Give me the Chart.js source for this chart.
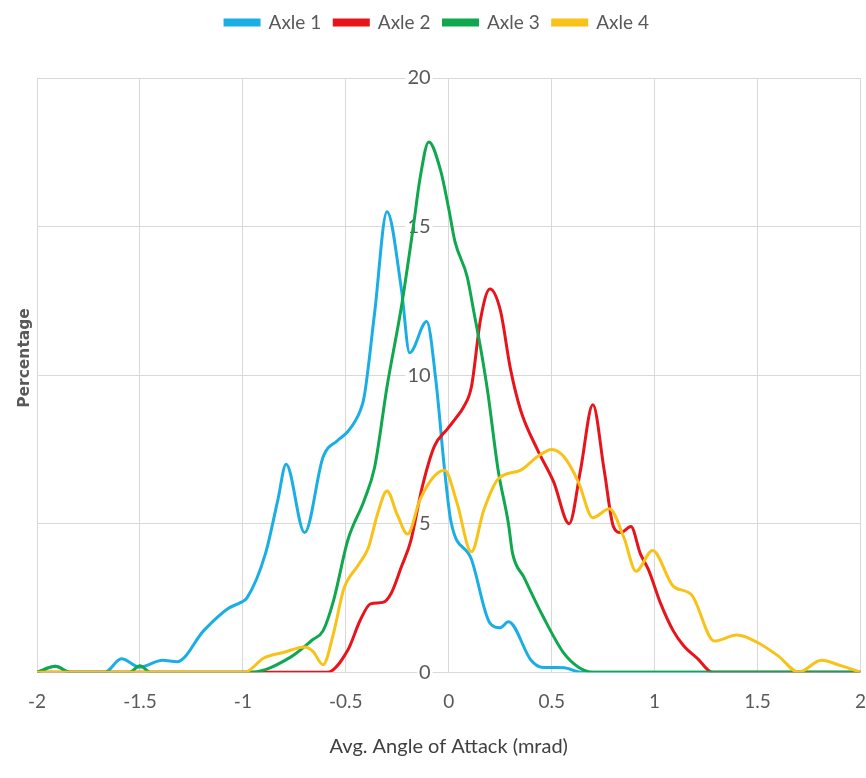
<!DOCTYPE html>
<html>
<head>
<meta charset="utf-8">
<script src="https://cdn.jsdelivr.net/npm/chart.js@4/dist/chart.umd.min.js"></script>
<style>
  html, body { margin: 0; padding: 0; background: #ffffff; }
  #wrap { width: 866px; height: 778px; }
</style>
</head>
<body>
<div id="wrap"><canvas id="c" width="866" height="778"></canvas></div>
<script>
// ---- data ----
const seriesNames = ['Axle 1', 'Axle 2', 'Axle 3', 'Axle 4'];
const xTickLabels = ['-2', '-1.5', '-1', '-0.5', '0', '0.5', '1', '1.5', '2'];
const yTickLabels = ['0', '5', '10', '15', '20'];
const xTitle = 'Avg. Angle of Attack (mrad)';
const yTitle = 'Percentage';

const axle1X = [-2, -1.91, -1.84, -1.67, -1.59, -1.50, -1.39, -1.32, -1.19, -1.07, -1.01, -0.98, -0.89, -0.83, -0.79, -0.70, -0.61, -0.54, -0.49, -0.43, -0.41, -0.36, -0.30, -0.23, -0.19, -0.107, -0.063, -0.02, 0.01, 0.11, 0.20, 0.25, 0.29, 0.40, 0.45, 0.56, 0.64, 2];
const axle1Y = [0, 0.2, 0, 0, 0.45, 0.17, 0.4, 0.35, 1.4, 2.15, 2.35, 2.5, 4.0, 5.8, 7.0, 4.7, 7.25, 7.8, 8.1, 8.8, 9.3, 12.1, 15.5, 12.9, 10.75, 11.8, 9.85, 6.8, 5.1, 3.8, 1.65, 1.5, 1.7, 0.4, 0.17, 0.15, 0, 0];

const axle2X = [-2, -0.59, -0.49, -0.43, -0.38, -0.32, -0.28, -0.23, -0.185, -0.13, -0.07, -0.005, 0.04, 0.07, 0.11, 0.155, 0.20, 0.25, 0.30, 0.35, 0.43, 0.51, 0.585, 0.64, 0.70, 0.755, 0.80, 0.835, 0.885, 0.93, 0.97, 1.03, 1.09, 1.14, 1.21, 1.28, 2];
const axle2Y = [0, 0, 0.75, 1.75, 2.3, 2.35, 2.65, 3.55, 4.4, 6.2, 7.6, 8.2, 8.6, 8.9, 9.6, 11.9, 12.9, 12.2, 10.2, 8.8, 7.5, 6.4, 5.0, 6.8, 9.0, 6.8, 4.9, 4.7, 4.9, 4.0, 3.45, 2.3, 1.4, 0.9, 0.45, 0, 0];

const axle3X = [-2, -1.91, -1.84, -1.55, -1.50, -1.45, -0.96, -0.77, -0.66, -0.61, -0.56, -0.49, -0.41, -0.36, -0.30, -0.23, -0.17, -0.14, -0.097, -0.04, 0, 0.03, 0.09, 0.12, 0.155, 0.19, 0.24, 0.29, 0.31, 0.365, 0.46, 0.56, 0.63, 0.70, 2];
const axle3Y = [0, 0.2, 0, 0, 0.22, 0, 0, 0.5, 1.1, 1.4, 2.4, 4.45, 5.8, 6.9, 9.6, 12.3, 15.1, 16.6, 17.85, 16.9, 15.6, 14.5, 13.3, 12.2, 10.9, 9.4, 6.8, 5.0, 4.0, 3.2, 1.85, 0.63, 0.17, 0, 0];

const axle4X = [-2, -0.99, -0.90, -0.80, -0.70, -0.66, -0.61, -0.56, -0.51, -0.44, -0.39, -0.345, -0.30, -0.25, -0.20, -0.14, -0.07, -0.02, 0.04, 0.11, 0.17, 0.24, 0.35, 0.43, 0.50, 0.56, 0.63, 0.70, 0.78, 0.85, 0.91, 0.99, 1.09, 1.18, 1.29, 1.40, 1.50, 1.60, 1.70, 1.81, 1.90, 2];
const axle4Y = [0, 0, 0.47, 0.67, 0.85, 0.7, 0.25, 1.3, 2.8, 3.6, 4.2, 5.35, 6.1, 5.3, 4.65, 5.8, 6.6, 6.8, 5.7, 4.05, 5.45, 6.5, 6.8, 7.25, 7.5, 7.25, 6.4, 5.2, 5.5, 4.55, 3.4, 4.1, 2.9, 2.6, 1.05, 1.25, 1.0, 0.55, 0, 0.4, 0.23, 0];

const seriesColors = ['#1aaee5', '#e8131b', '#10a84e', '#f8c218'];

// ---- build datasets ----
function pts(xs, ys) { return xs.map((x, i) => ({ x: x, y: ys[i] })); }
const allX = [axle1X, axle2X, axle3X, axle4X];
const allY = [axle1Y, axle2Y, axle3Y, axle4Y];

const datasets = seriesNames.map((name, i) => ({
  label: name,
  data: pts(allX[i], allY[i]),
  borderColor: seriesColors[i],
  backgroundColor: seriesColors[i],
  borderWidth: 3,
  pointRadius: 0,
  showLine: true,
  fill: false,
  cubicInterpolationMode: 'monotone',
  order: 4 - i,
  xAxisID: 'x',
  yAxisID: 'y'
}));

const uiFont = "Lato, 'Open Sans', sans-serif";

const legendMargin = {
  id: 'legendMargin',
  beforeInit(chart) {
    const origFit = chart.legend.fit;
    chart.legend.fit = function () {
      origFit.bind(chart.legend)();
      this.height += 36;
    };
  }
};

const yTitlePlugin = {
  id: 'yTitlePlugin',
  afterDraw(chart) {
    const c = chart.ctx;
    c.save();
    c.translate(25, 358);
    c.rotate(-Math.PI / 2);
    c.font = "bold 15.5px 'DejaVu Sans', Verdana, sans-serif";
    c.fillStyle = '#595959';
    c.textAlign = 'center';
    c.textBaseline = 'middle';
    c.fillText(yTitle, 0, 0);
    c.restore();
  }
};

new Chart(document.getElementById('c'), {
  type: 'scatter',
  data: { datasets: datasets },
  plugins: [legendMargin, yTitlePlugin],
  options: {
    responsive: false,
    animation: false,
    layout: { padding: { left: 8, right: 0, top: 0, bottom: 19 } },
    plugins: {
      tooltip: { enabled: false },
      legend: {
        position: 'top',
        labels: {
          boxWidth: 34,
          boxHeight: 5,
          padding: 13,
          color: '#595959',
          font: { family: uiFont, size: 19 },
          sort: (a, b) => a.datasetIndex - b.datasetIndex
        }
      }
    },
    scales: {
      x: {
        type: 'linear',
        min: -2, max: 2,
        ticks: {
          stepSize: 0.5,
          color: '#595959',
          font: { family: uiFont, size: 19 },
          padding: 0,
          maxRotation: 0,
          callback: (v) => {
            const idx = Math.round((v + 2) / 0.5);
            return xTickLabels[idx] !== undefined ? xTickLabels[idx] : '';
          }
        },
        grid: { color: '#d9d9d9', lineWidth: 1, drawTicks: true, tickLength: 18, tickColor: 'rgba(0,0,0,0)' },
        border: { display: true, color: '#d9d9d9' },
        title: {
          display: true,
          text: xTitle,
          color: '#404040',
          font: { family: uiFont, size: 20 },
          padding: { top: 22, bottom: 0 }
        }
      },
      y: {
        type: 'linear',
        min: 0, max: 20,
        position: { x: -0.088 },
        afterFit: (scale) => { scale.width = 0; },
        ticks: {
          stepSize: 5,
          color: '#595959',
          font: { family: uiFont, size: 20 },
          showLabelBackdrop: true,
          backdropColor: '#ffffff',
          backdropPadding: 2,
          callback: (v) => {
            const idx = Math.round(v / 5);
            return yTickLabels[idx] !== undefined ? yTickLabels[idx] : '';
          }
        },
        grid: { color: '#d9d9d9', lineWidth: 1, drawTicks: false },
        border: { display: false }
      },
      ySpace: {
        type: 'linear',
        position: 'left',
        min: 0, max: 20,
        afterFit: (scale) => { scale.width = 29; },
        ticks: { display: false },
        grid: { display: false, drawTicks: false },
        border: { display: false }
      }
    }
  }
});
</script>
</body>
</html>
